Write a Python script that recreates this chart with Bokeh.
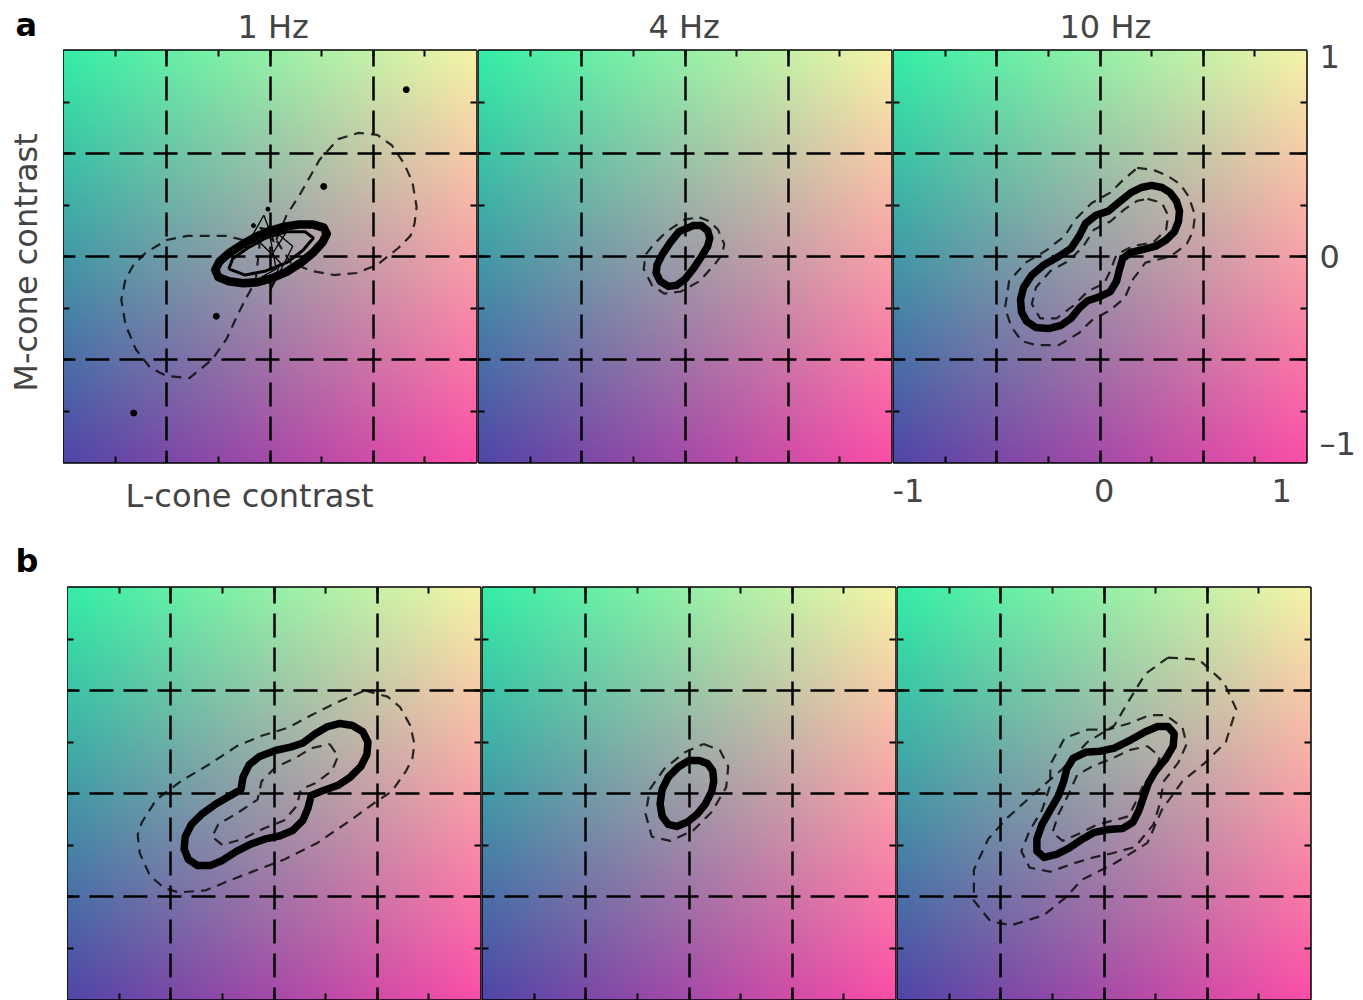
import numpy as np
from bokeh.plotting import figure
from bokeh.models import Range1d, LinearAxis, FixedTicker, Label, Title
from bokeh.layouts import column, row
from bokeh.embed import file_html
from bokeh.resources import INLINE

# ---------------- data ----------------
panel_titles = ["1 Hz", "4 Hz", "10 Hz"]
row_letters = ["a", "b"]
x_axis_title = "L-cone contrast"
y_axis_title = "M-cone contrast"
grid_values = [-0.5, 0.0, 0.5]
inner_tick_values = [-0.75, -0.5, -0.25, 0.0, 0.25, 0.5, 0.75]
x_tick_positions = [-0.96, 0.02, 0.88]
x_tick_labels = ["-1", "0", "1"]
y_tick_positions = [-0.91, 0.0, 0.97]
y_tick_labels = ["\u20131", "0", "1"]

# row a, 1 Hz
a1_thick_x = [-0.265, -0.25, -0.20, -0.13, -0.06, 0.01, 0.08, 0.15, 0.21, 0.255, 0.275, 0.26, 0.21, 0.14, 0.07, 0.00, -0.07, -0.14, -0.20, -0.245]
a1_thick_y = [-0.065, -0.10, -0.12, -0.13, -0.125, -0.105, -0.075, -0.03, 0.02, 0.07, 0.11, 0.14, 0.155, 0.155, 0.145, 0.125, 0.095, 0.055, 0.015, -0.025]
a1_inner_x = [-0.20, -0.12, -0.02, 0.08, 0.16, 0.21, 0.17, 0.08, -0.02, -0.11, -0.18]
a1_inner_y = [-0.06, -0.09, -0.07, -0.03, 0.03, 0.09, 0.12, 0.12, 0.09, 0.04, -0.01]
a1_noise_x = [-0.12, -0.03, 0.02, -0.05, 0.08, 0.01, -0.07, 0.05, 0.00, 0.11, -0.01, 0.03, -0.04]
a1_noise_y = [0.04, 0.20, 0.07, 0.14, 0.12, 0.01, 0.09, -0.03, -0.17, 0.05, 0.15, -0.06, -0.10]
a1_dash_ur_x = [0.03, 0.08, 0.15, 0.24, 0.33, 0.43, 0.52, 0.59, 0.65, 0.69, 0.71, 0.70, 0.68, 0.62, 0.52, 0.42, 0.31, 0.20, 0.10]
a1_dash_ur_y = [0.08, 0.20, 0.31, 0.47, 0.57, 0.60, 0.59, 0.54, 0.45, 0.36, 0.24, 0.16, 0.10, 0.04, -0.04, -0.08, -0.09, -0.07, -0.03]
a1_dash_ll_x = [-0.05, -0.21, -0.30, -0.40, -0.50, -0.60, -0.66, -0.70, -0.72, -0.70, -0.65, -0.58, -0.50, -0.39, -0.28, -0.21, -0.16, -0.12, -0.07]
a1_dash_ll_y = [0.06, 0.10, 0.10, 0.10, 0.08, 0.02, -0.04, -0.11, -0.21, -0.33, -0.45, -0.54, -0.58, -0.59, -0.50, -0.40, -0.29, -0.21, -0.12]
a1_dots_x = [0.66, 0.26, -0.26, -0.66]
a1_dots_y = [0.81, 0.34, -0.29, -0.76]
a1_small_dots_x = [-0.01, -0.08]
a1_small_dots_y = [0.23, 0.15]

# row a, 4 Hz
a2_thick_x = [0.04, 0.08, 0.11, 0.12, 0.11, 0.08, 0.04, 0.00, -0.04, -0.08, -0.12, -0.14, -0.135, -0.11, -0.07, -0.03]
a2_thick_y = [0.15, 0.15, 0.125, 0.09, 0.05, 0.00, -0.06, -0.11, -0.14, -0.145, -0.12, -0.08, -0.04, 0.01, 0.07, 0.12]
a2_dash_x = [0.07, 0.12, 0.16, 0.19, 0.18, 0.15, 0.07, -0.02, -0.10, -0.16, -0.20, -0.19, -0.15, -0.09, 0.00]
a2_dash_y = [0.19, 0.17, 0.13, 0.06, 0.01, -0.03, -0.12, -0.17, -0.18, -0.14, -0.06, 0.01, 0.06, 0.12, 0.18]

# row a, 10 Hz
a3_thick_x = [0.04, 0.10, 0.15, 0.20, 0.25, 0.30, 0.34, 0.37, 0.385, 0.38, 0.36, 0.32, 0.27, 0.21, 0.15, 0.11, 0.095, 0.08, 0.05, 0.00, -0.06, -0.10, -0.14, -0.19, -0.25, -0.31, -0.355, -0.38, -0.385, -0.37, -0.33, -0.27, -0.20, -0.14, -0.10, -0.07, -0.02]
a3_thick_y = [0.22, 0.27, 0.31, 0.335, 0.345, 0.335, 0.31, 0.27, 0.22, 0.17, 0.12, 0.08, 0.05, 0.035, 0.02, -0.01, -0.06, -0.12, -0.17, -0.195, -0.215, -0.25, -0.30, -0.335, -0.35, -0.345, -0.315, -0.27, -0.21, -0.15, -0.09, -0.04, 0.00, 0.04, 0.10, 0.16, 0.20]
a3_dash_out_x = [0.18, 0.26, 0.33, 0.39, 0.43, 0.46, 0.45, 0.42, 0.34, 0.22, 0.16, 0.12, 0.05, -0.04, -0.10, -0.20, -0.31, -0.38, -0.43, -0.46, -0.44, -0.36, -0.26, -0.17, -0.12, -0.04, 0.05, 0.11]
a3_dash_out_y = [0.43, 0.42, 0.39, 0.35, 0.29, 0.20, 0.12, 0.06, 0.00, -0.03, -0.11, -0.20, -0.26, -0.31, -0.37, -0.43, -0.43, -0.41, -0.34, -0.25, -0.12, -0.03, 0.03, 0.10, 0.18, 0.26, 0.31, 0.37]
a3_dash_in_x = [0.23, 0.30, 0.33, 0.32, 0.26, 0.16, 0.08, 0.05, 0.02, -0.06, -0.13, -0.21, -0.29, -0.33, -0.31, -0.24, -0.15, -0.08, -0.03, 0.05, 0.12, 0.18]
a3_dash_in_y = [0.28, 0.26, 0.20, 0.13, 0.07, 0.05, 0.01, -0.07, -0.13, -0.17, -0.24, -0.30, -0.30, -0.23, -0.15, -0.07, -0.02, 0.05, 0.13, 0.17, 0.23, 0.27]

# row b, 1 Hz
b1_thick_x = [0.01, 0.08, 0.14, 0.20, 0.26, 0.32, 0.38, 0.43, 0.455, 0.45, 0.42, 0.37, 0.31, 0.24, 0.18, 0.165, 0.14, 0.09, 0.03, -0.04, -0.11, -0.18, -0.25, -0.31, -0.37, -0.415, -0.435, -0.43, -0.40, -0.35, -0.28, -0.21, -0.16, -0.15, -0.12, -0.07]
b1_thick_y = [0.21, 0.225, 0.245, 0.29, 0.325, 0.34, 0.33, 0.30, 0.25, 0.19, 0.13, 0.08, 0.04, 0.015, -0.01, -0.07, -0.13, -0.18, -0.205, -0.22, -0.245, -0.28, -0.325, -0.35, -0.35, -0.32, -0.27, -0.21, -0.15, -0.10, -0.05, -0.01, 0.02, 0.08, 0.14, 0.18]
b1_dash_out_x = [0.44, 0.55, 0.61, 0.66, 0.68, 0.67, 0.64, 0.57, 0.48, 0.37, 0.21, 0.05, -0.08, -0.21, -0.33, -0.46, -0.53, -0.60, -0.65, -0.66, -0.64, -0.57, -0.45, -0.30, -0.18, -0.06, 0.07, 0.18, 0.30]
b1_dash_out_y = [0.50, 0.47, 0.42, 0.33, 0.24, 0.17, 0.11, 0.01, -0.05, -0.13, -0.24, -0.32, -0.37, -0.42, -0.47, -0.48, -0.46, -0.40, -0.29, -0.20, -0.14, -0.03, 0.06, 0.15, 0.23, 0.28, 0.32, 0.38, 0.44]
b1_dash_in_x = [0.27, 0.31, 0.28, 0.20, 0.13, 0.11, 0.05, -0.05, -0.15, -0.25, -0.30, -0.27, -0.17, -0.08, -0.06, 0.01, 0.10, 0.18]
b1_dash_in_y = [0.24, 0.18, 0.11, 0.05, 0.02, -0.06, -0.13, -0.17, -0.22, -0.25, -0.21, -0.15, -0.09, -0.03, 0.06, 0.13, 0.17, 0.22]

# row b, 4 Hz
b2_thick_x = [0.05, 0.09, 0.115, 0.12, 0.11, 0.08, 0.04, -0.01, -0.06, -0.10, -0.13, -0.14, -0.13, -0.10, -0.05, 0.00]
b2_thick_y = [0.16, 0.145, 0.11, 0.06, 0.01, -0.05, -0.10, -0.14, -0.16, -0.15, -0.11, -0.05, 0.02, 0.08, 0.13, 0.16]
b2_dash_x = [0.07, 0.15, 0.19, 0.18, 0.11, 0.02, -0.09, -0.18, -0.21, -0.19, -0.12, -0.02]
b2_dash_y = [0.24, 0.21, 0.13, 0.03, -0.09, -0.18, -0.23, -0.21, -0.10, 0.02, 0.12, 0.20]

# row b, 10 Hz
b3_thick_x = [0.20, 0.26, 0.31, 0.34, 0.335, 0.30, 0.25, 0.215, 0.19, 0.17, 0.14, 0.09, 0.02, -0.05, -0.11, -0.17, -0.23, -0.29, -0.325, -0.325, -0.30, -0.26, -0.22, -0.195, -0.18, -0.15, -0.09, -0.02, 0.05, 0.12]
b3_thick_y = [0.30, 0.325, 0.325, 0.29, 0.23, 0.17, 0.11, 0.05, -0.02, -0.08, -0.14, -0.17, -0.175, -0.19, -0.225, -0.265, -0.295, -0.31, -0.28, -0.22, -0.15, -0.08, -0.01, 0.06, 0.12, 0.17, 0.20, 0.205, 0.22, 0.255]
b3_dash_out_x = [0.31, 0.46, 0.58, 0.64, 0.59, 0.49, 0.38, 0.28, 0.21, 0.05, -0.11, -0.18, -0.29, -0.45, -0.55, -0.63, -0.63, -0.56, -0.47, -0.36, -0.20, -0.08, 0.05, 0.12, 0.20]
b3_dash_out_y = [0.66, 0.65, 0.54, 0.41, 0.25, 0.15, 0.06, -0.08, -0.24, -0.34, -0.42, -0.50, -0.59, -0.64, -0.62, -0.52, -0.37, -0.22, -0.12, -0.02, 0.12, 0.25, 0.33, 0.45, 0.58]
b3_dash_mid_x = [-0.08, 0.02, 0.12, 0.22, 0.30, 0.38, 0.40, 0.36, 0.29, 0.27, 0.24, 0.15, 0.04, -0.05, -0.15, -0.26, -0.36, -0.40, -0.36, -0.30, -0.26, -0.26, -0.19]
b3_dash_mid_y = [0.31, 0.31, 0.34, 0.38, 0.38, 0.32, 0.24, 0.15, 0.06, -0.05, -0.15, -0.26, -0.29, -0.31, -0.34, -0.38, -0.36, -0.28, -0.18, -0.08, 0.04, 0.14, 0.27]
b3_dash_in_x = [0.21, 0.27, 0.25, 0.19, 0.15, 0.12, 0.05, -0.03, -0.11, -0.20, -0.25, -0.22, -0.17, -0.13, -0.06, 0.04, 0.12]
b3_dash_in_y = [0.23, 0.18, 0.11, 0.04, -0.05, -0.11, -0.13, -0.15, -0.19, -0.23, -0.19, -0.10, 0.00, 0.09, 0.13, 0.17, 0.21]

# ---------------- style ----------------
FONT = "DejaVu Sans"
TEXT_COLOR = "#444444"
FW, FH = 413, 412
A_TOP, A_BOTTOM = 50, 68
B_TOP, B_BOTTOM = 57, 1
CORNER_TL = (52, 238, 166)
CORNER_TR = (246, 243, 168)
CORNER_BL = (80, 70, 168)
CORNER_BR = (252, 78, 168)


def gradient_image(n=128):
    u = np.linspace(0.0, 1.0, n)
    X, Y = np.meshgrid(u, u)  # row 0 = bottom
    img = np.empty((n, n), dtype=np.uint32)
    view = img.view(dtype=np.uint8).reshape((n, n, 4))
    for c in range(3):
        top = CORNER_TL[c] * (1 - X) + CORNER_TR[c] * X
        bot = CORNER_BL[c] * (1 - X) + CORNER_BR[c] * X
        view[:, :, c] = np.clip(bot * (1 - Y) + top * Y, 0, 255).astype(np.uint8)
    view[:, :, 3] = 255
    return img


GRAD = gradient_image()


def closed(v):
    return list(v) + [v[0]]


def tick_axis():
    return LinearAxis(ticker=FixedTicker(ticks=[], minor_ticks=inner_tick_values),
                      axis_line_color=None, major_tick_line_color=None,
                      major_tick_in=0, major_tick_out=0,
                      minor_tick_in=6, minor_tick_out=0, minor_tick_line_width=2,
                      minor_tick_line_color="black", major_label_standoff=0)


def label_axis(positions, labels, standoff):
    return LinearAxis(ticker=FixedTicker(ticks=positions, minor_ticks=inner_tick_values),
                      axis_line_color=None, major_tick_line_color=None,
                      major_tick_in=0, major_tick_out=0,
                      minor_tick_in=6, minor_tick_out=0, minor_tick_line_width=2,
                      minor_tick_line_color="black",
                      major_label_overrides={p: l for p, l in zip(positions, labels)},
                      major_label_text_font=FONT, major_label_text_font_size="32px",
                      major_label_text_color=TEXT_COLOR, major_label_standoff=standoff)


def make_panel(left, right, top, bottom, thick, dashed, labelled=False,
               title=None, title_offset=0, below_title=None, below_offset=0,
               thick_width=7.5):
    p = figure(frame_width=FW, frame_height=FH, title=None,
               x_range=Range1d(-1, 1), y_range=Range1d(-1, 1),
               x_axis_location=None, y_axis_location=None,
               toolbar_location=None, tools="", output_backend="svg",
               min_border_left=left, min_border_right=right,
               min_border_top=top, min_border_bottom=bottom)
    p.background_fill_color = "white"
    p.border_fill_color = "white"
    p.outline_line_color = "black"
    p.outline_line_width = 2.5
    p.image_rgba(image=[GRAD], x=-1, y=-1, dw=2, dh=2, level="image")
    for g in (p.xgrid, p.ygrid):
        g.ticker = FixedTicker(ticks=grid_values)
        g.grid_line_color = "black"
        g.grid_line_width = 2.5
        g.grid_line_dash = "24 10"
        g.grid_line_dash_offset = 12
    for (xs, ys) in dashed:
        p.line(closed(xs), closed(ys), line_color="#0a0a0a", line_width=2.2,
               line_dash="10 7", line_alpha=0.85)
    xs, ys = thick
    p.line(closed(xs), closed(ys), line_color="black", line_width=thick_width,
           line_join="round", line_cap="round")
    p.add_layout(tick_axis(), "left")
    p.add_layout(tick_axis(), "above")
    if labelled:
        p.add_layout(label_axis(y_tick_positions, y_tick_labels, 13), "right")
        p.add_layout(label_axis(x_tick_positions, x_tick_labels, 16), "below")
    else:
        p.add_layout(tick_axis(), "right")
        p.add_layout(tick_axis(), "below")
    if title is not None:
        p.add_layout(Title(text=title, align="left", offset=title_offset,
                           text_font=FONT, text_font_size="32px",
                           text_font_style="normal", text_color=TEXT_COLOR,
                           standoff=10), "above")
    if below_title is not None:
        p.add_layout(Title(text=below_title, align="left", offset=below_offset,
                           vertical_align="top",
                           text_font=FONT, text_font_size="32px",
                           text_font_style="normal", text_color=TEXT_COLOR,
                           standoff=28), "below")
    return p


def side_figure(width, top, bottom, letter, letter_align, letter_standoff):
    # frame is aligned with the neighbouring panels; data units = page pixels
    p = figure(frame_width=width, frame_height=FH, title=None,
               x_range=Range1d(0, width), y_range=Range1d(top + FH, top),
               x_axis_location=None, y_axis_location=None,
               toolbar_location=None, tools="", output_backend="svg",
               min_border_left=0, min_border_right=0,
               min_border_top=top, min_border_bottom=bottom)
    p.outline_line_color = None
    p.grid.visible = False
    p.background_fill_color = "white"
    p.border_fill_color = "white"
    p.add_layout(Title(text=letter, align="left", offset=15,
                       vertical_align=letter_align,
                       text_font=FONT, text_font_size="32px",
                       text_font_style="bold", text_color="black",
                       standoff=letter_standoff), "above")
    return p


# ---------------- row a ----------------
side_a = side_figure(63, A_TOP, A_BOTTOM, row_letters[0], "top", 10)
side_a.add_layout(Label(x=25, y=262, text=y_axis_title, text_font=FONT,
                        text_font_size="32px", text_color=TEXT_COLOR,
                        text_align="center", text_baseline="middle",
                        angle=np.pi / 2))

a1 = make_panel(0, 1, A_TOP, A_BOTTOM, (a1_thick_x, a1_thick_y),
                [(a1_dash_ur_x, a1_dash_ur_y), (a1_dash_ll_x, a1_dash_ll_y)],
                title=panel_titles[0], title_offset=174,
                below_title=x_axis_title, below_offset=62, thick_width=8.5)
a1.line(closed(a1_inner_x), closed(a1_inner_y), line_color="black", line_width=3)
a1.line(a1_noise_x, a1_noise_y, line_color="black", line_width=1.3)
a1.scatter(a1_dots_x, a1_dots_y, size=6, color="black")
a1.scatter(a1_small_dots_x, a1_small_dots_y, size=4, color="black")
a2 = make_panel(1, 1, A_TOP, A_BOTTOM, (a2_thick_x, a2_thick_y), [(a2_dash_x, a2_dash_y)],
                title=panel_titles[1], title_offset=170)
a3 = make_panel(1, 56, A_TOP, A_BOTTOM, (a3_thick_x, a3_thick_y),
                [(a3_dash_out_x, a3_dash_out_y), (a3_dash_in_x, a3_dash_in_y)],
                labelled=True, title=panel_titles[2], title_offset=166)

# ---------------- row b ----------------
side_b = side_figure(67, B_TOP, B_BOTTOM, row_letters[1], "bottom", 15)

b1 = make_panel(0, 1, B_TOP, B_BOTTOM, (b1_thick_x, b1_thick_y),
                [(b1_dash_out_x, b1_dash_out_y), (b1_dash_in_x, b1_dash_in_y)])
b2 = make_panel(1, 1, B_TOP, B_BOTTOM, (b2_thick_x, b2_thick_y), [(b2_dash_x, b2_dash_y)])
b3 = make_panel(1, 2, B_TOP, B_BOTTOM, (b3_thick_x, b3_thick_y),
                [(b3_dash_out_x, b3_dash_out_y), (b3_dash_mid_x, b3_dash_mid_y),
                 (b3_dash_in_x, b3_dash_in_y)])

layout = column(row(side_a, a1, a2, a3), row(side_b, b1, b2, b3))
open("out.html", "w").write(file_html(layout, INLINE))
